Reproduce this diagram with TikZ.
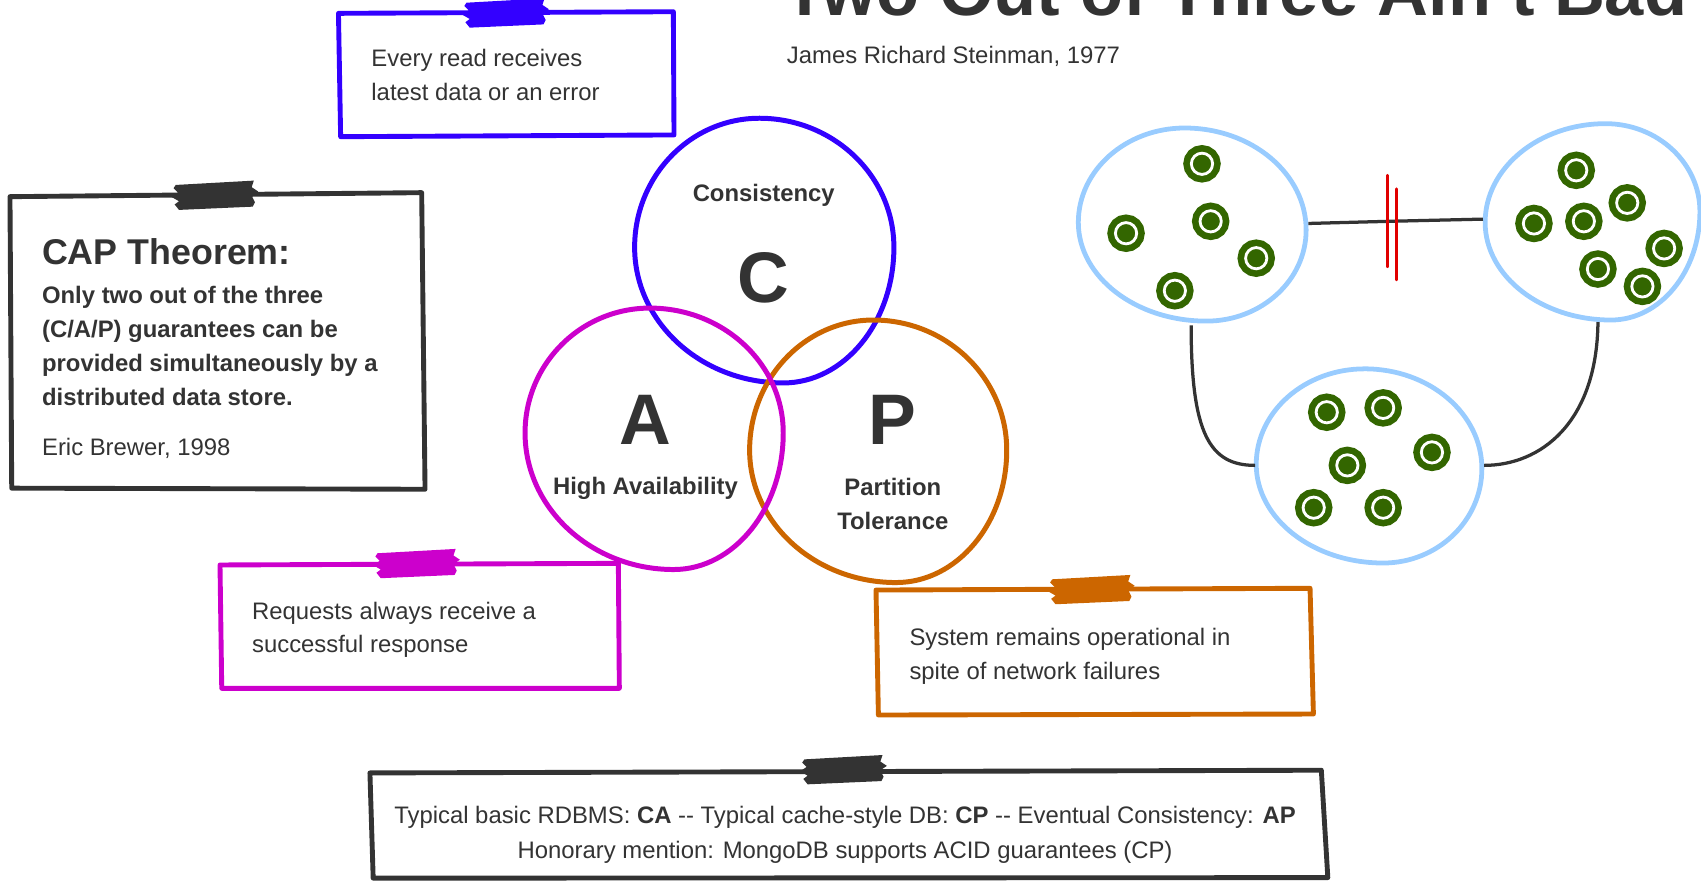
\documentclass[tikz,border=0pt]{standalone}
\usepackage{fontspec}
\setmainfont{Liberation Sans}
\definecolor{cblue}{RGB}{51,0,255}
\definecolor{cmag}{RGB}{204,0,204}
\definecolor{corange}{RGB}{204,102,0}
\definecolor{cdark}{RGB}{51,51,51}
\definecolor{clight}{RGB}{153,204,255}
\definecolor{cred}{RGB}{225,0,0}
\definecolor{cgreen}{RGB}{51,102,0}
\begin{document}
\begin{tikzpicture}[x=0.5pt,y=-0.5pt,
  box/.style={line width=2.25pt, line join=round},
  venn/.style={line width=2.3pt},
  blob/.style={draw=clight, line width=2.2pt},
  link/.style={draw=cdark, line width=1.5pt},
  brk/.style={draw=cred, line width=1.25pt, line cap=round},
  txt/.style={text=cdark, inner sep=0pt, anchor=base west, font=\fontsize{11pt}{13pt}\selectfont},
  txtb/.style={text=cdark, inner sep=0pt, anchor=base west, font=\fontsize{11pt}{13pt}\selectfont\bfseries},
  lbl/.style={text=cdark, inner sep=0pt, anchor=base, font=\fontsize{11pt}{13pt}\selectfont\bfseries},
  ctr/.style={text=cdark, inner sep=0pt, anchor=base, font=\fontsize{11pt}{13pt}\selectfont},
  big/.style={text=cdark, inner sep=0pt, anchor=base, font=\fontsize{33pt}{36pt}\selectfont\bfseries},
  netdot/.style={circle, inner sep=0pt, minimum size=9.8pt, fill=cgreen, draw=white, line width=1.3pt,
     preaction={draw=cgreen, line width=7.4pt}},
  tape/.pic={\fill[pic actions] (-36,-10) -- (36,-14) -- (34,-8) -- (40,-4) -- (34,0) -- (37,6) -- (35,10)
     -- (-33,13) -- (-37,8) -- (-33,5) -- (-40,1) -- (-34,-3) -- (-38,-7) -- cycle;}
]
\useasboundingbox (0,0) rectangle (1568,812);
\clip (0,0) rectangle (1568,812);

% title
\node[text=cdark, inner sep=0pt, anchor=base west, font=\fontsize{32.5pt}{36pt}\selectfont\bfseries] (title) at (722,14) {Two Out of Three Ain't Bad};
\node[txt] (author) at (725,59) {James Richard Steinman, 1977};

% boxes
\draw[box, cblue] (312,12.3) -- (620.7,10.8) -- (621.3,124.4) -- (314,126) -- cycle;
\pic[fill=cblue] at (466,12.5) {tape};
\node[txt] (cd1) at (342,61.5) {Every read receives};
\node[txt] (cd2) at (342,93) {latest data or an error};

\draw[box, cdark] (9.2,181.3) -- (388.7,177.6) -- (391.8,451) -- (10.8,450) -- cycle;
\pic[fill=cdark] at (198,180.5) {tape};
\node[text=cdark, inner sep=0pt, anchor=base west, font=\fontsize{16.5pt}{19pt}\selectfont\bfseries] (capt) at (38.4,244) {CAP Theorem:};
\node[txtb] (cap1) at (38.4,279.6) {Only two out of the three};
\node[txtb] (cap2) at (38.4,310.8) {(C/A/P) guarantees can be};
\node[txtb] (cap3) at (38.4,342) {provided simultaneously by a};
\node[txtb] (cap4) at (38.4,373.4) {distributed data store.};
\node[txt] (capa) at (38.4,420) {Eric Brewer, 1998};

\draw[box, cmag] (202.8,520.8) -- (570,519.3) -- (570.9,634.5) -- (204.4,634.5) -- cycle;
\pic[fill=cmag] at (384,520) {tape};
\node[txt] (ad1) at (232,570.6) {Requests always receive a};
\node[txt] (ad2) at (232,601.6) {successful response};

\draw[box, corange] (807.5,543.9) -- (1207.6,542.3) -- (1210.7,658.2) -- (809.7,659.1) -- cycle;
\pic[fill=corange] at (1006,544) {tape};
\node[txt] (pd1) at (838,594.6) {System remains operational in};
\node[txt] (pd2) at (838,626) {spite of network failures};

\draw[box, cdark] (341,712.5) -- (1218,710) -- (1224,809) -- (344,809.5) -- cycle;
\pic[fill=cdark] at (777.5,710) {tape};
\node[ctr] (ex1) at (779,759) {Typical basic RDBMS: \textbf{CA} -{}- Typical cache-style DB: \textbf{CP} -{}- Eventual Consistency: \textbf{AP}};
\node[ctr] (ex2) at (779,791) {Honorary mention: MongoDB supports ACID guarantees (CP)};

% Venn
\draw[venn, cblue] (700,109) .. controls (768.4,109) and (824,162.3) .. (824,228)
  .. controls (824,297) and (778.3,353) .. (722,353)
  .. controls (646.4,353) and (585,297) .. (585,228)
  .. controls (585,162.3) and (636.5,109) .. cycle;
\draw[venn, corange] (805,295) .. controls (872.9,295) and (928,348.8) .. (928,415)
  .. controls (928,482.3) and (882.3,537) .. (826,537)
  .. controls (751.5,537) and (691,482.3) .. (691,415)
  .. controls (691,348.8) and (742.1,295) .. cycle;
\draw[venn, cmag] (599,284) .. controls (666.9,284) and (722,335.5) .. (722,399)
  .. controls (722,468.6) and (676.8,525) .. (621,525)
  .. controls (545.4,525) and (484,468.6) .. (484,399)
  .. controls (484,335.5) and (535.5,284) .. cycle;

\node[lbl] (cons) at (704,186) {Consistency};
\node[big] (lc) at (704,279) {C};
\node[big] (la) at (595,409.5) {A};
\node[lbl] (avail) at (595,456) {High Availability};
\node[big] (lp) at (823,410) {P};
\node[lbl] (part1) at (823,457) {Partition};
\node[lbl] (part2) at (823,488.5) {Tolerance};

% network
\draw[blob] (1092,118) .. controls (1153.8,118) and (1204,160.1) .. (1204,212)
  .. controls (1204,258.4) and (1162.8,296) .. (1112,296)
  .. controls (1046.9,296) and (994,255.2) .. (994,205)
  .. controls (994,157) and (1037.9,118) .. cycle;
\draw[blob] (1480,114) .. controls (1528,114) and (1567,150.3) .. (1567,195)
  .. controls (1567,250.2) and (1530.3,295) .. (1485,295)
  .. controls (1421,295) and (1369,254.7) .. (1369,205)
  .. controls (1369,154.8) and (1418.7,114) .. cycle;
\draw[blob] (1258,340) .. controls (1317.6,340) and (1366,381.2) .. (1366,432)
  .. controls (1366,480) and (1325.2,519) .. (1275,519)
  .. controls (1210.4,519) and (1158,478.2) .. (1158,428)
  .. controls (1158,379.4) and (1202.8,340) .. cycle;

\coordinate (Le) at (1206,206);
\coordinate (Rw) at (1367,202);
\coordinate (Ls) at (1098,300);
\coordinate (Bw) at (1157,429);
\coordinate (Rs) at (1473,297);
\coordinate (Be) at (1368,429);
\coordinate (k1a) at (1279,161.5);
\coordinate (k1b) at (1279,246);
\coordinate (k2a) at (1287,174);
\coordinate (k2b) at (1287,258);

\draw[link] (Le) .. controls (1280,204) .. (Rw);
\draw[link] (Ls) .. controls (1098,400) and (1115,429) .. (Bw);
\draw[link] (Rs) .. controls (1472,390) and (1420,429) .. (Be);
\draw[brk] (k1a) -- (k1b);
\draw[brk] (k2a) -- (k2b);

\node[netdot] (l1) at (1108,151) {};
\node[netdot] (l2) at (1038,215) {};
\node[netdot] (l3) at (1116,204) {};
\node[netdot] (l4) at (1158,238) {};
\node[netdot] (l5) at (1083,268) {};

\node[netdot] (r1) at (1453,157) {};
\node[netdot] (r2) at (1414,206) {};
\node[netdot] (r3) at (1460,204) {};
\node[netdot] (r4) at (1500,187) {};
\node[netdot] (r5) at (1534,229) {};
\node[netdot] (r6) at (1473,248) {};
\node[netdot] (r7) at (1514,264) {};

\node[netdot] (b1) at (1223,380) {};
\node[netdot] (b2) at (1275,376) {};
\node[netdot] (b3) at (1320,417) {};
\node[netdot] (b4) at (1242,429) {};
\node[netdot] (b5) at (1211,468) {};
\node[netdot] (b6) at (1275,468) {};
\end{tikzpicture}
\end{document}
